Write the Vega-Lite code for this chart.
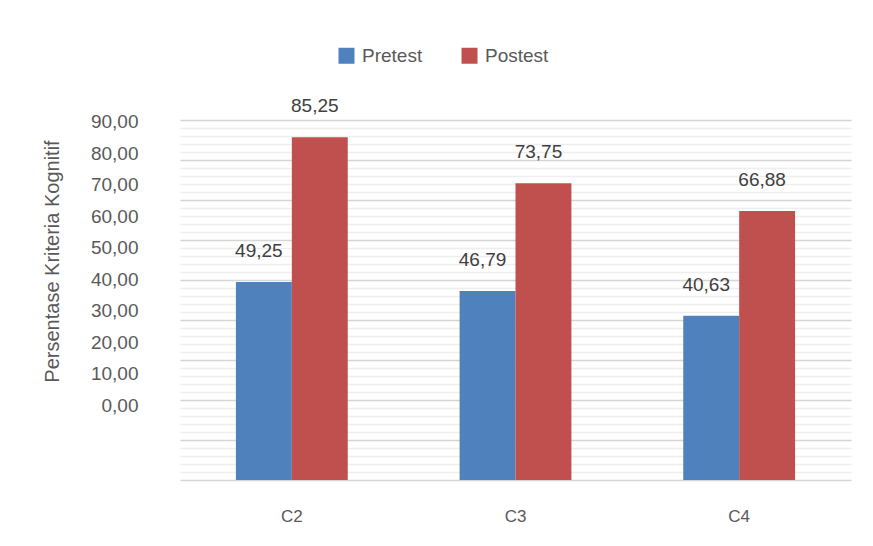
{
  "$schema": "https://vega.github.io/schema/vega-lite/v6.json",
  "width": 671,
  "height": 360,
  "autosize": {"type": "none"},
  "padding": {"left": 180, "top": 120, "right": 22, "bottom": 66},
  "config": {
    "locale": {"number": {"decimal": ",", "thousands": ".", "grouping": [3], "currency": ["", ""]}},
    "view": {"stroke": null},
    "font": "Liberation Sans"
  },
  "data": {
    "values": [
      {"kelas": "C2", "tes": "Pretest", "nilai": 49.25, "tinggi": 39.07},
      {"kelas": "C2", "tes": "Postest", "nilai": 85.25, "tinggi": 85.04},
      {"kelas": "C3", "tes": "Pretest", "nilai": 46.79, "tinggi": 36.21},
      {"kelas": "C3", "tes": "Postest", "nilai": 73.75, "tinggi": 70.43},
      {"kelas": "C4", "tes": "Pretest", "nilai": 40.63, "tinggi": 28.37},
      {"kelas": "C4", "tes": "Postest", "nilai": 66.88, "tinggi": 61.63}
    ]
  },
  "layer": [
    {
      "mark": {"type": "rule", "opacity": 0},
      "encoding": {
        "y": {
          "datum": 0,
          "type": "quantitative",
          "scale": {"domain": [0, 45], "nice": false, "zero": false},
          "axis": {
            "orient": "right",
            "labels": false,
            "ticks": false,
            "domain": false,
            "title": null,
            "tickCount": 45,
            "grid": true,
            "gridColor": {"condition": {"test": "datum.value % 5 === 0", "value": "#d6d6d6"}, "value": "#eeeeee"},
            "gridWidth": 1.5
          }
        }
      }
    },
    {
      "encoding": {
        "x": {
          "field": "kelas",
          "type": "nominal",
          "scale": {"paddingInner": 0.5, "paddingOuter": 0.25},
          "axis": {
            "title": null,
            "labelAngle": 0,
            "ticks": false,
            "domain": false,
            "grid": false,
            "labelPadding": 28,
            "labelFontSize": 17,
            "labelColor": "#595959"
          }
        },
        "xOffset": {"field": "tes", "type": "nominal", "sort": ["Pretest", "Postest"]},
        "y": {
          "field": "tinggi",
          "type": "quantitative",
          "scale": {"domain": [-23.8, 90.55], "nice": false, "zero": false},
          "axis": {
            "values": [0, 10, 20, 30, 40, 50, 60, 70, 80, 90],
            "format": ".2f",
            "grid": false,
            "ticks": false,
            "tickSize": 0,
            "domain": false,
            "labelPadding": 42,
            "labelFontSize": 19,
            "labelColor": "#595959",
            "title": "Persentase Kriteria Kognitif",
            "titleFontSize": 20,
            "titleFontWeight": "normal",
            "titleColor": "#595959",
            "titleX": -118,
            "titleY": 141
          }
        }
      },
      "layer": [
        {
          "mark": {"type": "bar"},
          "encoding": {
            "y2": {"datum": -23.8},
            "color": {
              "field": "tes",
              "type": "nominal",
              "sort": ["Pretest", "Postest"],
              "scale": {"domain": ["Pretest", "Postest"], "range": ["#4F81BD", "#C0504D"]},
              "legend": {
                "title": null,
                "orient": "none",
                "direction": "horizontal",
                "legendX": 157,
                "legendY": -74,
                "padding": 0,
                "symbolType": "square",
                "symbolSize": 256,
                "symbolStrokeWidth": 0,
                "labelFontSize": 19,
                "labelColor": "#595959",
                "labelOffset": 6,
                "columnPadding": 37
              }
            }
          }
        },
        {
          "mark": {"type": "text", "dy": -31, "dx": -5, "fontSize": 19, "color": "#404040", "baseline": "middle"},
          "encoding": {
            "text": {"field": "nilai", "type": "quantitative", "format": ".2f"}
          }
        }
      ]
    }
  ],
  "resolve": {"scale": {"y": "independent"}}
}
